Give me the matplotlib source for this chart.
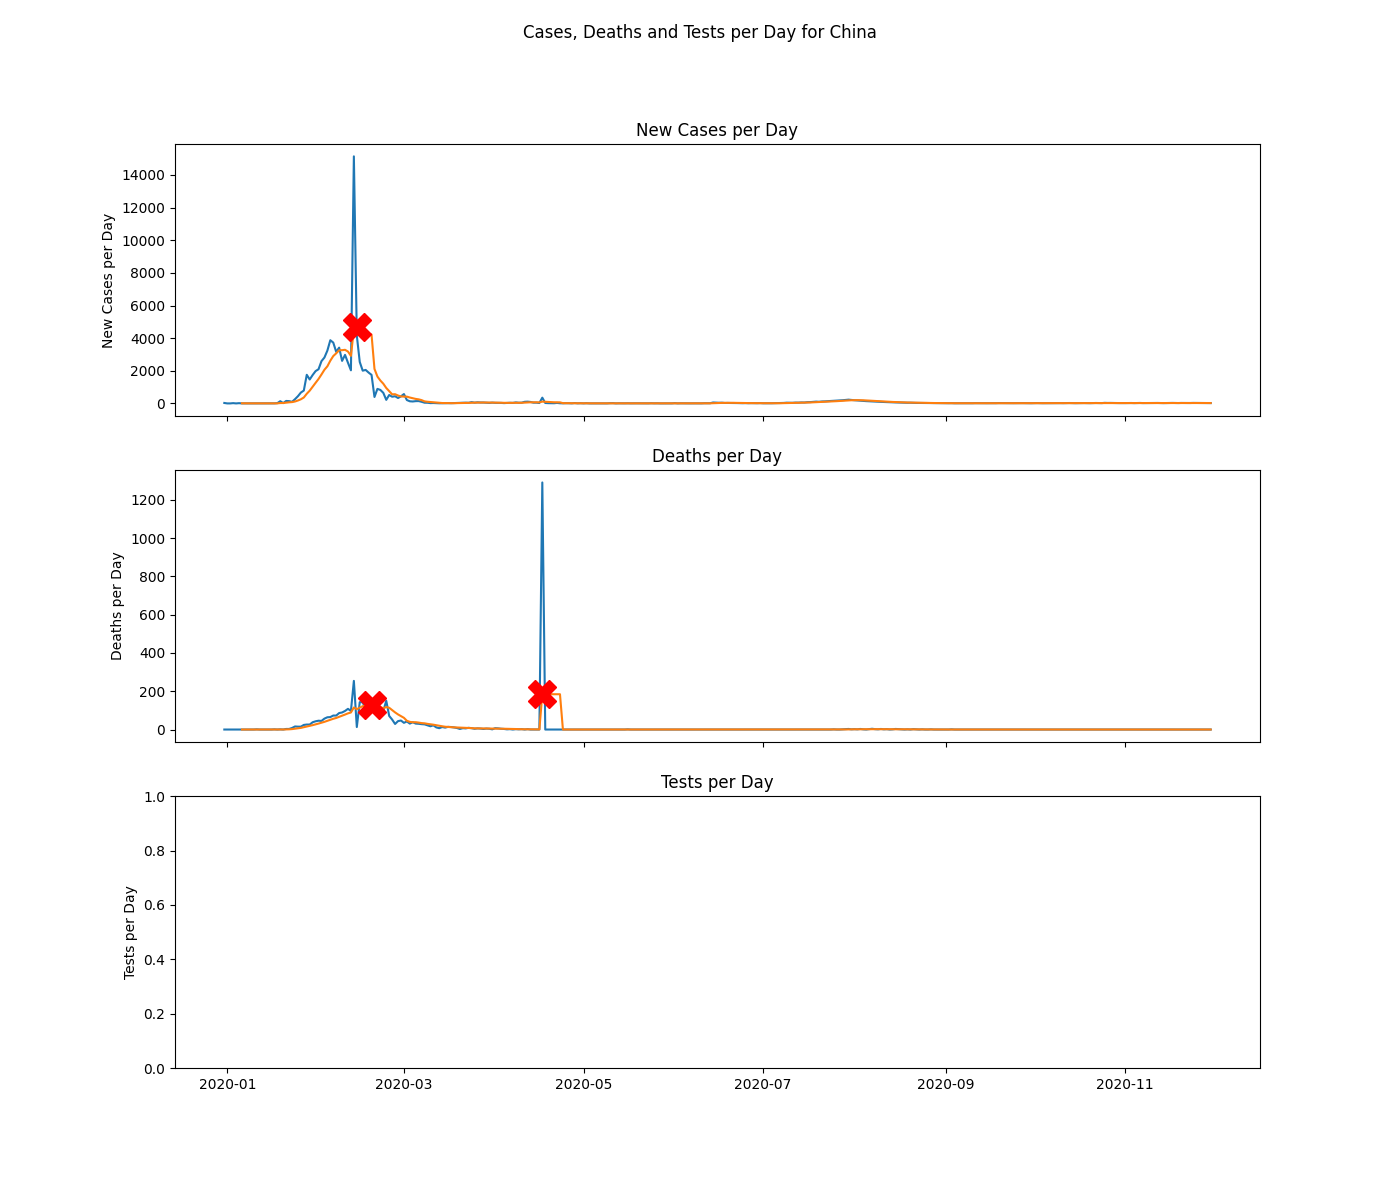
import matplotlib
matplotlib.use("Agg")
import matplotlib.pyplot as plt
import pandas as pd

start_date = "2019-12-31"

cases_dec = [27]
cases_jan = [0, 0, 17, 0, 15, 0, 0, 0, 0, 0, 0, 0, 0, 0, 0, 0, 4, 17, 136, 19,
             151, 140, 97, 259, 441, 665, 787, 1753, 1466, 1740, 1980]
cases_feb = [2095, 2590, 2812, 3237, 3872, 3727, 3160, 3418, 2607, 2974,
             2490, 2028, 15141, 4156, 2538, 2007, 2052, 1890, 1750, 394,
             891, 826, 647, 218, 515, 410, 439, 331, 433]
cases_mar = [574, 206, 130, 118, 139, 143, 99, 44, 40, 19, 24, 15, 8, 11, 20, 16,
             13, 21, 34, 39, 41, 46, 39, 78, 47, 67, 55, 54, 45, 31, 48]
cases_apr = [35, 36, 31, 19, 30, 39, 32, 62, 42, 46, 99, 108, 89, 46, 46, 26,
             352, 27, 16, 12, 11, 30, 10, 6, 12, 11, 3, 22, 4, 12]
cases_may = [2, 12, 1, 3, 1, 2, 1, 4, 1, 14, 17, 1, 7, 3, 4, 8, 4, 7, 6, 4,
             5, 2, 3, 11, 4, 7, 1, 2, 4, 4, 2]
cases_jun = [16, 1, 7, 5, 6, 3, 6, 4, 3, 3, 11, 8, 11, 57, 49, 40, 44, 28, 32, 26,
             27, 22, 18, 13, 19, 11, 17, 13, 12, 19]
cases_jul = [8, 7, 9, 10, 14, 20, 18, 30, 45, 40, 38, 52, 48, 60, 55, 75, 80, 95,
             110, 100, 120, 125, 140, 150, 160, 170, 180, 195, 215, 230, 210]
cases_aug = [195, 180, 165, 150, 140, 130, 125, 115, 105, 95, 90, 80, 72, 68, 60,
             55, 50, 45, 40, 42, 35, 30, 28, 25, 22, 20, 18, 20, 15, 14, 12]
cases_sep = [10, 12, 15, 8, 11, 10, 9, 14, 12, 10, 15, 13, 10, 9, 12, 16, 14, 13,
             20, 18, 15, 12, 10, 14, 16, 13, 18, 15, 12, 11]
cases_oct = [18, 20, 15, 12, 14, 16, 20, 22, 25, 18, 15, 20, 24, 16, 14, 18, 20,
             22, 19, 15, 23, 26, 20, 18, 35, 28, 30, 25, 22, 20, 18]
cases_nov = [20, 22, 25, 18, 24, 28, 20, 22, 26, 30, 25, 28, 20, 18, 22, 24, 30,
             26, 22, 28, 25, 20, 24, 30, 28, 22, 20, 18, 24, 20]

deaths_dec = [0]
deaths_jan = [0, 0, 0, 0, 0, 0, 0, 0, 0, 0, 1, 0, 0, 0, 0, 0, 1, 0, 1, 0,
              3, 3, 8, 16, 15, 15, 24, 26, 26, 38, 43]
deaths_feb = [46, 45, 57, 64, 65, 73, 73, 86, 89, 97, 108, 97, 254, 13, 143, 142,
              105, 98, 136, 114, 118, 109, 97, 150, 71, 52, 29, 44, 47]
deaths_mar = [35, 42, 31, 38, 31, 30, 28, 27, 22, 17, 22, 11, 7, 13, 10, 14, 13,
              11, 8, 3, 7, 6, 9, 7, 4, 6, 5, 3, 5, 4, 1]
deaths_apr = [7, 6, 4, 3, 1, 2, 0, 2, 1, 2, 0, 2, 0, 0, 0, 0, 1290, 0, 0, 0,
              0, 0, 0, 0, 0, 0, 0, 0, 0, 0]
deaths_may = [0, 0, 0, 0, 0, 0, 0, 0, 0, 0, 0, 0, 0, 0, 0, 1, 0, 0, 0, 0,
              0, 0, 0, 0, 0, 0, 0, 0, 0, 0, 0]
deaths_jun = [0, 0, 0, 0, 0, 0, 0, 0, 0, 0, 0, 0, 0, 0, 0, 0, 0, 0, 0, 0,
              0, 0, 0, 0, 0, 0, 0, 0, 0, 0]
deaths_jul = [0, 0, 0, 0, 0, 0, 0, 0, 0, 0, 0, 0, 0, 0, 0, 0, 0, 0, 0, 0,
              0, 0, 0, 0, 1, 0, 0, 1, 2, 3, 1]
deaths_aug = [2, 1, 3, 1, 0, 2, 4, 2, 1, 3, 1, 2, 0, 1, 3, 2, 1, 0, 1, 0,
              2, 1, 0, 1, 0, 0, 1, 0, 0, 0, 0]
deaths_sep = [0, 0, 1, 0, 0, 0, 0, 0, 0, 0, 0, 0, 0, 0, 0, 0, 0, 0, 0, 0,
              0, 0, 0, 0, 0, 0, 0, 0, 0, 0]
deaths_oct = [0, 0, 0, 0, 0, 0, 0, 0, 0, 0, 0, 0, 0, 0, 0, 0, 0, 0, 0, 0,
              0, 0, 0, 0, 0, 0, 0, 0, 0, 0, 0]
deaths_nov = [0, 0, 0, 0, 0, 0, 0, 0, 0, 0, 0, 0, 0, 0, 0, 0, 0, 0, 0, 0,
              0, 0, 0, 0, 0, 0, 0, 0, 0, 0]

cases_peak_dates = ["2020-02-14"]
deaths_peak_dates = ["2020-02-19", "2020-04-17"]

cases = (cases_dec + cases_jan + cases_feb + cases_mar + cases_apr + cases_may +
         cases_jun + cases_jul + cases_aug + cases_sep + cases_oct + cases_nov)
deaths = (deaths_dec + deaths_jan + deaths_feb + deaths_mar + deaths_apr + deaths_may +
          deaths_jun + deaths_jul + deaths_aug + deaths_sep + deaths_oct + deaths_nov)

dates = pd.date_range(start_date, periods=len(cases), freq="D")
cases_s = pd.Series(cases, index=dates, dtype=float)
deaths_s = pd.Series(deaths, index=dates, dtype=float)
cases_avg = cases_s.rolling(7).mean()
deaths_avg = deaths_s.rolling(7).mean()

fig, axes = plt.subplots(3, 1, figsize=(14, 12), dpi=100, sharex=True)
fig.suptitle("Cases, Deaths and Tests per Day for China")

ax = axes[0]
ax.plot(cases_s.index, cases_s.values)
ax.plot(cases_avg.index, cases_avg.values)
cp = pd.to_datetime(cases_peak_dates)
ax.plot(cp, cases_avg.loc[cp].values, "X", color="red", markersize=20)
ax.set_title("New Cases per Day")
ax.set_ylabel("New Cases per Day")

ax = axes[1]
ax.plot(deaths_s.index, deaths_s.values)
ax.plot(deaths_avg.index, deaths_avg.values)
dp = pd.to_datetime(deaths_peak_dates)
ax.plot(dp, deaths_avg.loc[dp].values, "X", color="red", markersize=20)
ax.set_title("Deaths per Day")
ax.set_ylabel("Deaths per Day")

ax = axes[2]
ax.set_title("Tests per Day")
ax.set_ylabel("Tests per Day")

fig.savefig("out.png", dpi=100)
